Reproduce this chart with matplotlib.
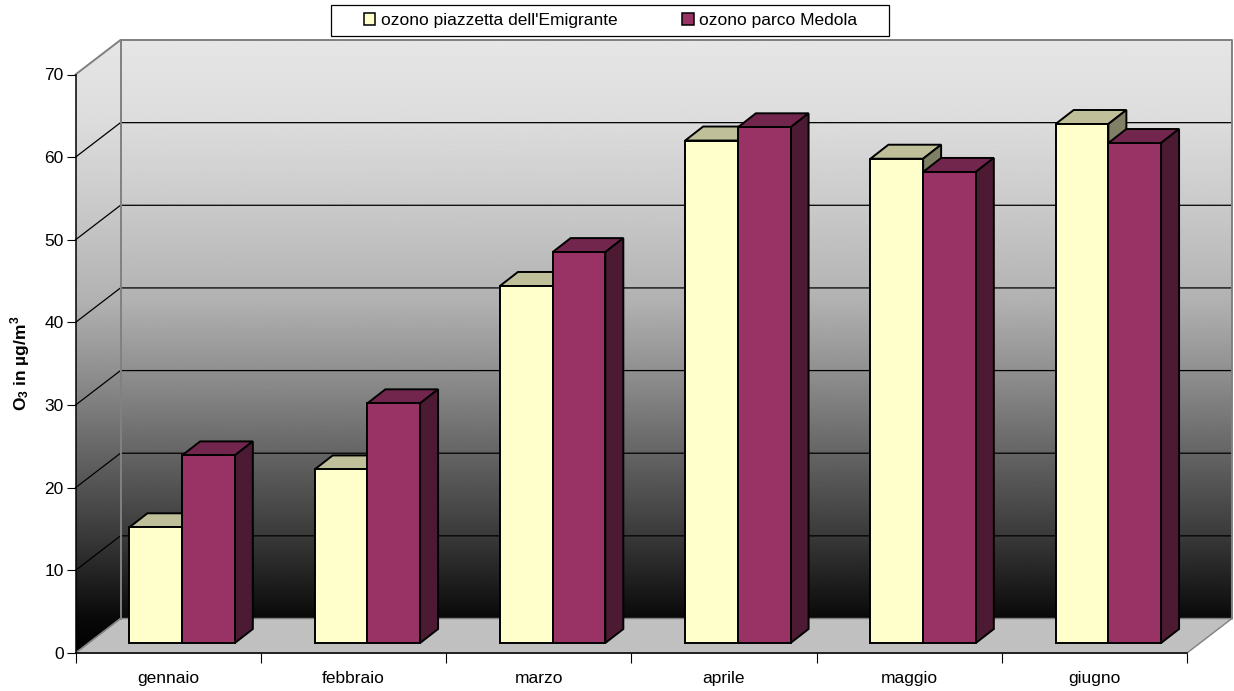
"""Ozone monthly means, drawn as an Excel style 3D column chart."""

import numpy as np
import matplotlib
matplotlib.use("Agg")
import matplotlib.pyplot as plt
from matplotlib.patches import Polygon, Rectangle, Patch

plt.rcParams["font.family"] = ["Liberation Sans", "DejaVu Sans"]
plt.rcParams["mathtext.fontset"] = "custom"
plt.rcParams["mathtext.rm"] = "Liberation Sans"
plt.rcParams["mathtext.bf"] = "Liberation Sans:bold"

# ─── data ─────────────────────────────────────────────────────────────────────
MONTHS = ["gennaio", "febbraio", "marzo", "aprile", "maggio", "giugno"]
EMIGRANTE = [14.0, 21.0, 43.2, 60.8, 58.6, 62.8]
MEDOLA = [22.7, 29.0, 47.3, 62.4, 57.0, 60.5]
Y_TICKS = [0, 10, 20, 30, 40, 50, 60, 70]

W, H = 1234, 691
X0, X1 = 75.5, 1187.0      # front floor edge, px
Y0, Y70 = 653.0, 74.5      # 0 and 70 on front axis, px
PX_X = (X1 - X0) / len(MONTHS)
PX_Y = (Y0 - Y70) / 70

# wall depth and bar depth, in data units
DX, DY = 45 / PX_X, 34.5 / PX_Y
BAR_DX, BAR_DY = 18 / PX_X, 14 / PX_Y
BAR_W = 52.7 / PX_X
BASE_X, BASE_Y = 14 / PX_X, 10 / PX_Y

YELLOW = ("#FFFFCC", "#BFBF99", "#808066")
PURPLE = ("#993366", "#73264D", "#4D1A33")
WALL_EDGE = "#808080"

# wall shading: grey level against pixel row
GRAD_ROWS = [40, 123, 205, 300, 371, 453, 536, 618, 653]
GRAD_GREY = [0xE6, 0xDC, 0xCA, 0xB2, 0x90, 0x65, 0x3A, 0x0A, 0x00]

fig = plt.figure(figsize=(W / 100, H / 100), dpi=100, facecolor="white")
ax = fig.add_axes([X0 / W, 1 - Y0 / H, (X1 - X0) / W, (Y0 - Y70) / H])
ax.patch.set_visible(False)
n = len(MONTHS)

# gradient walls, clipped to their own outlines and not to the axes box
rows = np.linspace(GRAD_ROWS[0], GRAD_ROWS[-1], 512)
grad = np.interp(rows, GRAD_ROWS, GRAD_GREY).reshape(-1, 1) / 255
back = Polygon([(DX, DY), (n + DX, DY), (n + DX, 70 + DY), (DX, 70 + DY)], transform=ax.transData)
side = Polygon([(0, 0), (DX, DY), (DX, 70 + DY), (0, 70)], transform=ax.transData)
im = ax.imshow(grad, cmap="gray", vmin=0, vmax=1, aspect="auto", zorder=1,
               extent=(DX, n + DX, 0, 70 + DY))
im.set_clip_box(fig.bbox)
im.set_clip_path(back)
im2 = ax.imshow(grad, cmap="gray", vmin=0, vmax=1, aspect="auto", zorder=1,
                extent=(0, DX, 0, 70 + DY))
im2.set_clip_box(fig.bbox)
im2.set_clip_path(side)
ax.set_xlim(0, n)
ax.set_ylim(0, 70)

# floor
ax.add_patch(Polygon([(0, 0), (n, 0), (n + DX, DY), (DX, DY)], closed=True, facecolor="#C0C0C0",
                     edgecolor=WALL_EDGE, lw=1, zorder=2, clip_on=False))

# gridlines on the walls
for t in Y_TICKS[1:-1]:
    ax.plot([0, DX, n + DX], [t, t + DY, t + DY], color="black", lw=0.9, zorder=2, clip_on=False)
ax.plot([0, DX, n + DX, n + DX], [70, 70 + DY, 70 + DY, DY], color=WALL_EDGE, lw=1.4, zorder=2, clip_on=False)
ax.plot([DX, DX], [DY, 70 + DY], color=WALL_EDGE, lw=1.4, zorder=2, clip_on=False)
ax.plot([0, DX], [0, DY], color=WALL_EDGE, lw=1, zorder=2, clip_on=False)


def draw_bar(x, val, cols, z):
    """Front face plus top and side faces of one column."""
    y = BASE_Y
    top = y + val
    style = dict(edgecolor="black", lw=1.4, joinstyle="miter", zorder=z, clip_on=False)
    ax.add_patch(Polygon([(x, top), (x + BAR_W, top), (x + BAR_W + BAR_DX, top + BAR_DY),
                          (x + BAR_DX, top + BAR_DY)], facecolor=cols[1], **style))
    ax.add_patch(Polygon([(x + BAR_W, y), (x + BAR_W + BAR_DX, y + BAR_DY),
                          (x + BAR_W + BAR_DX, top + BAR_DY), (x + BAR_W, top)],
                         facecolor=cols[2], **style))
    ax.add_patch(Rectangle((x, y), BAR_W, val, facecolor=cols[0], **style))


for i, (a, b) in enumerate(zip(EMIGRANTE, MEDOLA)):
    cx = i + 0.5 + BASE_X
    draw_bar(cx - BAR_W, a, YELLOW, 3 + i * 0.1)
    draw_bar(cx, b, PURPLE, 3.05 + i * 0.1)

# axes
for s in ("top", "right"):
    ax.spines[s].set_visible(False)
ax.spines["left"].set_zorder(6)
ax.spines["bottom"].set_zorder(6)
ax.spines["left"].set_linewidth(1.1)
ax.spines["bottom"].set_linewidth(1.1)
ax.set_yticks(Y_TICKS)
ax.set_xticks(range(n + 1))
ax.set_xticklabels([])
ax.set_xticks([i + 0.5 for i in range(n)], MONTHS, minor=True)
ax.tick_params(axis="x", which="major", length=7, width=0.8)
ax.tick_params(axis="x", which="minor", length=0, labelsize=12.5, pad=13)
ax.tick_params(axis="y", length=6.5, width=0.8, labelsize=12.5, pad=2)
fig.text(20 / W, 1 - 363 / H, r"$\mathbf{O_3}$ in µg/m$^{\mathbf{3}}$", rotation=90,
         ha="center", va="center", fontsize=12.5, fontweight="bold")

# legend box is wider than the entries, so it gets its own frame
fig.add_artist(Rectangle((331 / W, 1 - 36 / H), 557.5 / W, 31 / H, transform=fig.transFigure,
                         facecolor="white", edgecolor="black", lw=0.9))
handles = [Patch(facecolor=YELLOW[0], edgecolor="black", lw=1.1, label="ozono piazzetta dell'Emigrante"),
           Patch(facecolor=PURPLE[0], edgecolor="black", lw=1.1, label="ozono parco Medola")]
leg = fig.legend(handles=handles, ncol=2, loc="center", bbox_to_anchor=(610.5 / W, 1 - 20.5 / H),
                 fontsize=12.5, frameon=False,
                 handlelength=0.68, handleheight=0.68, handletextpad=0.3, columnspacing=3.75,
                 borderpad=0.45, borderaxespad=0)
leg.set_zorder(10)

fig.savefig("out.png", dpi=100)
